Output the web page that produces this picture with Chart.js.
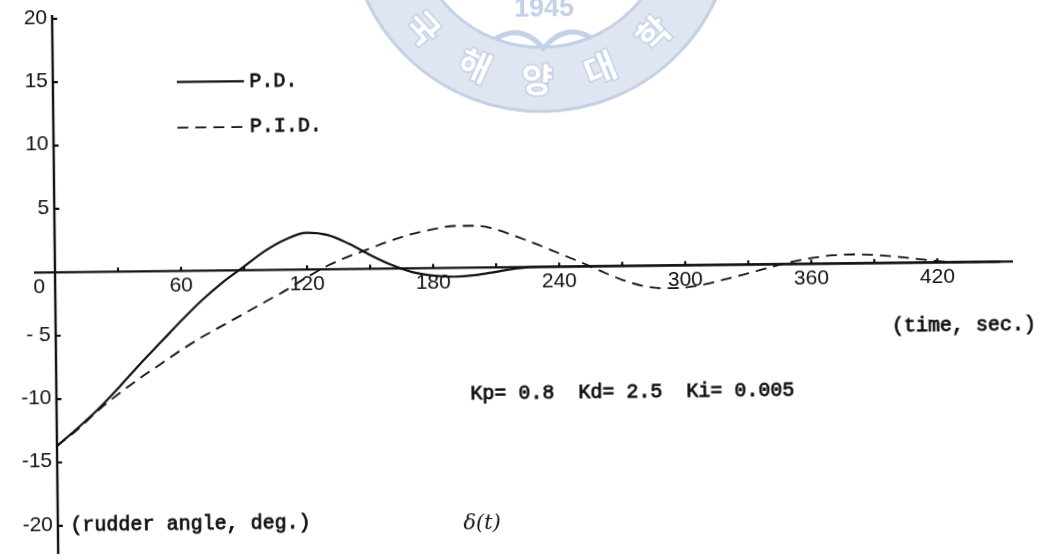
<!DOCTYPE html>
<html>
<head>
<meta charset="utf-8">
<script src="https://cdn.jsdelivr.net/npm/chart.js@4.4.1/dist/chart.umd.min.js"></script>
<style>
  html, body { margin: 0; padding: 0; background: #fff; overflow: hidden; }
  #wrap { width: 1053px; height: 556px; }
  /* the scanned sheet sits slightly askew */
  canvas { display: block; transform: rotate(-0.65deg); transform-origin: 55px 272px; }
</style>
</head>
<body>
<div id="wrap"><canvas id="c" width="1053" height="556"></canvas></div>
<script>
// time axis (s)
const timeSec = [0,10,20,30,40,50,60,70,80,90,
                 100,110,120,130,140,150,160,170,180,190,
                 200,210,220,230,240,250,260,270,280,290,
                 300,310,320,330,340,350,360,370,380,390,
                 400,410,420,430,440,450];
// rudder angle response, P.D. control (deg)
const pdAngle = [-13.7,-12.3,-10.8,-9.1,-7.3,-5.6,-3.9,-2.3,-0.9,0.3,
                 1.5,2.4,2.9,2.7,2.0,1.1,0.3,-0.3,-0.6,-0.7,
                 -0.6,-0.35,-0.1,0,0,0,0,0,0,0,
                 0,0,0,0,0,0,0,0,0,0,
                 0,0,0,0,0,0];
// rudder angle response, P.I.D. control (deg)
const pidAngle = [-13.7,-12.4,-10.9,-9.6,-8.4,-7.3,-6.2,-5.2,-4.3,-3.4,
                  -2.5,-1.6,-0.6,0.3,1.0,1.6,2.2,2.7,3.05,3.3,
                  3.3,3.0,2.4,1.75,1.05,0.35,-0.4,-1.1,-1.6,-1.8,
                  -1.75,-1.5,-1.1,-0.7,-0.25,0.15,0.45,0.65,0.7,0.65,
                  0.5,0.3,0.1,0,0,0];
// axis ticks and labels
const xTickValues = [30,60,90,120,150,180,210,240,270,300,330,360,390,420];
const xLabelValues = [0,60,120,180,240,300,360,420];
const xLabelTexts = ['0','60','120','180','240','300','360','420'];
const yTickValues = [20,15,10,5,-5,-10,-15,-20];
const yTickTexts = ['20','15','10','5','- 5','-10','-15','-20'];
// controller gains
const gainKp = 0.8, gainKd = 2.5, gainKi = 0.005;

const ink = '#111';
const numFont = '21px "Liberation Sans", Arial, sans-serif';
const typeFont = '20px "Liberation Mono", "DejaVu Sans Mono", monospace';

// faint university seal printed across the top of the sheet
const sealPlugin = {
  id: 'seal',
  beforeDatasetsDraw(chart) {
    const ctx = chart.ctx;
    const cx = 545, cy = -75, R = 192, r = 128;
    const pale = '#c3d0e6';
    ctx.save();
    ctx.fillStyle = '#dfe6f2';
    ctx.beginPath();
    ctx.arc(cx, cy, R, 0, Math.PI * 2);
    ctx.arc(cx, cy, r, 0, Math.PI * 2, true);
    ctx.fill();
    ctx.strokeStyle = pale;
    ctx.lineWidth = 3;
    ctx.beginPath(); ctx.arc(cx, cy, R, 0, Math.PI); ctx.stroke();
    ctx.beginPath(); ctx.arc(cx, cy, r, 0, Math.PI); ctx.stroke();
    const chars = ['한','국','해','양','대','학','교'];
    const angles = [161,138,115,92,69,46,23];
    ctx.font = 'bold 34px "Noto Sans CJK KR", sans-serif';
    ctx.textAlign = 'center';
    ctx.textBaseline = 'middle';
    chars.forEach((ch, i) => {
      const a = angles[i] * Math.PI / 180;
      const px = cx + 160 * Math.cos(a), py = cy + 160 * Math.sin(a);
      ctx.save();
      ctx.translate(px, py);
      ctx.rotate(a - Math.PI / 2);
      ctx.lineWidth = 3;
      ctx.strokeStyle = pale;
      ctx.strokeText(ch, 0, 0);
      ctx.fillStyle = '#ffffff';
      ctx.fillText(ch, 0, 0);
      ctx.restore();
    });
    ctx.fillStyle = pale;
    ctx.font = 'bold 27px "Liberation Sans", Arial, sans-serif';
    ctx.fillText('1945', 547, 15);
    ctx.strokeStyle = pale;
    ctx.lineWidth = 5;
    ctx.beginPath();
    ctx.moveTo(498, 44); ctx.quadraticCurveTo(524, 28, 546, 54);
    ctx.quadraticCurveTo(568, 28, 594, 44);
    ctx.stroke();
    ctx.restore();
  }
};

// typed text with a slightly heavy, inked stroke
function typed(ctx, text, px, py) {
  ctx.fillText(text, px, py);
  ctx.strokeText(text, px, py);
}

// hand-ruled axes, tick marks, labels and annotations
const axesPlugin = {
  id: 'handAxes',
  beforeDatasetsDraw(chart) {
    const { ctx, chartArea, scales: { x, y } } = chart;
    const x0 = x.getPixelForValue(0), y0 = y.getPixelForValue(0);
    ctx.save();
    ctx.strokeStyle = ink;
    ctx.lineWidth = 2.4;
    ctx.beginPath();
    ctx.moveTo(chartArea.left, y0); ctx.lineTo(chartArea.right, y0);
    ctx.moveTo(x0, chartArea.top); ctx.lineTo(x0, chart.height - 2);
    ctx.stroke();
    // tick marks
    ctx.lineWidth = 2.2;
    ctx.beginPath();
    xTickValues.forEach(v => {
      const px = x.getPixelForValue(v);
      ctx.moveTo(px, y0); ctx.lineTo(px, y0 - 4);
    });
    yTickValues.forEach(v => {
      const py = y.getPixelForValue(v);
      ctx.moveTo(x0, py); ctx.lineTo(x0 + 5, py);
    });
    ctx.stroke();
    // tick labels
    ctx.fillStyle = ink;
    ctx.font = numFont;
    ctx.textBaseline = 'middle';
    ctx.textAlign = 'center';
    xLabelValues.forEach((v, i) => {
      let px = x.getPixelForValue(v);
      if (v === 0) px -= 16;
      ctx.fillText(xLabelTexts[i], px, y0 + 15);
    });
    ctx.textAlign = 'right';
    yTickValues.forEach((v, i) => {
      ctx.fillText(yTickTexts[i], x0 - 5, y.getPixelForValue(v) - 1);
    });
    ctx.restore();
  },
  afterDatasetsDraw(chart) {
    const { ctx, scales: { x, y } } = chart;
    ctx.save();
    ctx.fillStyle = ink;
    ctx.strokeStyle = ink;
    ctx.lineWidth = 0.8;
    ctx.font = typeFont;
    ctx.textBaseline = 'middle';
    ctx.textAlign = 'left';
    // legend
    const legendRows = [14.9, 11.3];
    chart.data.datasets.forEach((ds, i) => {
      const py = y.getPixelForValue(legendRows[i]);
      ctx.save();
      ctx.strokeStyle = ds.borderColor;
      ctx.lineWidth = ds.borderWidth;
      ctx.setLineDash(ds.borderDash || []);
      ctx.beginPath();
      ctx.moveTo(x.getPixelForValue(59), py);
      ctx.lineTo(x.getPixelForValue(91), py);
      ctx.stroke();
      ctx.restore();
      typed(ctx, ds.label, x.getPixelForValue(93.5), py);
    });
    // axis titles and gains
    typed(ctx, '(time, sec.)', x.getPixelForValue(398), y.getPixelForValue(-5));
    typed(ctx, 'Kp= ' + gainKp + '  Kd= ' + gainKd + '  Ki= ' + gainKi,
          x.getPixelForValue(197), y.getPixelForValue(-10));
    typed(ctx, '(rudder angle, deg.)', x.getPixelForValue(6), y.getPixelForValue(-20));
    ctx.font = 'italic 21px "DejaVu Serif", serif';
    ctx.fillText('\u03b4(t)', x.getPixelForValue(193), y.getPixelForValue(-20.2));
    ctx.restore();
  }
};

const pts = vals => timeSec.map((t, i) => ({ x: t, y: vals[i] }));

new Chart(document.getElementById('c'), {
  type: 'line',
  data: {
    datasets: [
      { label: 'P.D.', data: pts(pdAngle), borderColor: ink, borderWidth: 2.2,
        pointRadius: 0, cubicInterpolationMode: 'monotone', fill: false },
      { label: 'P.I.D.', data: pts(pidAngle), borderColor: ink, borderWidth: 1.8,
        borderDash: [11, 7], pointRadius: 0, cubicInterpolationMode: 'monotone', fill: false }
    ]
  },
  options: {
    responsive: false,
    animation: false,
    devicePixelRatio: 1,
    layout: { padding: { left: 34, right: 40, top: 15, bottom: 6 } },
    plugins: { legend: { display: false }, tooltip: { enabled: false }, title: { display: false } },
    scales: {
      x: { type: 'linear', display: false, min: -10, max: 456 },
      y: { type: 'linear', display: false, min: -21.9, max: 20.3 }
    }
  },
  plugins: [sealPlugin, axesPlugin]
});
</script>
</body>
</html>
